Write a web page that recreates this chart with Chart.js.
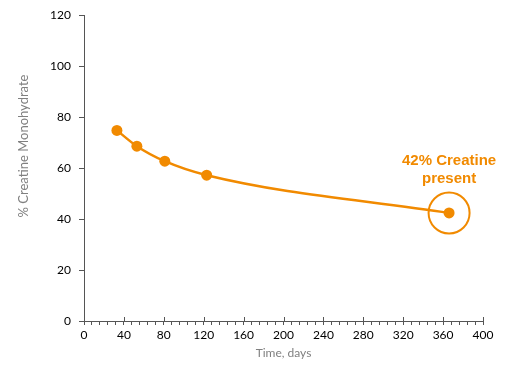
<!DOCTYPE html>
<html><head><meta charset="utf-8">
<script src="https://cdn.jsdelivr.net/npm/chart.js@4/dist/chart.umd.min.js"></script>
<style>html,body{margin:0;padding:0;background:#fff}#wrap{width:531px;height:371px}</style>
</head><body><div id="wrap"><canvas id="c" width="531" height="371"></canvas></div>
<script>
const timeDays = [33, 53, 81, 123, 366];
const creatinePct = [74.8, 68.6, 62.7, 57.2, 42.4];
const xTicks = [0, 40, 80, 120, 160, 200, 240, 280, 320, 360, 400];
const yTicks = [0, 20, 40, 60, 80, 100, 120];
const calloutLines = ['42% Creatine', 'present'];
const calloutIndex = 4;
const yTitle = '% Creatine Monohydrate';
const xTitle = 'Time, days';

const ORANGE = '#F18A00';
const AXIS = '#555555';
const TITLE_FONT = '13px Lato, "Open Sans", sans-serif';

const extras = {
  id: 'extras',
  afterDraw(chart) {
    const ctx = chart.ctx, x = chart.scales.x, y = chart.scales.y;
    ctx.save();
    // major ticks crossing axis upward
    ctx.strokeStyle = AXIS; ctx.lineWidth = 1;
    const y0 = y.getPixelForValue(0);
    xTicks.forEach(v => {
      const px = Math.round(x.getPixelForValue(v)) + 0.5;
      ctx.beginPath(); ctx.moveTo(px, y0 - 4); ctx.lineTo(px, y0); ctx.stroke();
    });
    // y axis title
    ctx.save();
    ctx.fillStyle = '#808080'; ctx.font = TITLE_FONT;
    ctx.textAlign = 'center'; ctx.textBaseline = 'middle';
    ctx.translate(24, 146); ctx.rotate(-Math.PI / 2);
    ctx.fillText(yTitle, 0, 0);
    ctx.restore();
    // callout
    const px = x.getPixelForValue(timeDays[calloutIndex]);
    const py = y.getPixelForValue(creatinePct[calloutIndex]);
    ctx.strokeStyle = ORANGE; ctx.lineWidth = 2;
    ctx.beginPath(); ctx.arc(px, py, 20.5, 0, Math.PI * 2); ctx.stroke();
    ctx.fillStyle = ORANGE;
    ctx.font = 'bold 15px "Liberation Sans", Arial, sans-serif';
    ctx.textAlign = 'center'; ctx.textBaseline = 'middle';
    ctx.fillText(calloutLines[0], px, py - 52);
    ctx.fillText(calloutLines[1], px, py - 34);
    ctx.restore();
  }
};

new Chart(document.getElementById('c'), {
  type: 'line',
  data: {
    datasets: [{
      data: timeDays.map((t, i) => ({x: t, y: creatinePct[i]})),
      borderColor: ORANGE, backgroundColor: ORANGE,
      borderWidth: 2.5, pointRadius: 5.5, pointHoverRadius: 5.5,
      pointBorderWidth: 0,
      cubicInterpolationMode: 'monotone'
    }]
  },
  options: {
    responsive: false, animation: false,
    layout: {padding: {top: 15, right: 48, left: 0, bottom: 0}},
    plugins: {legend: {display: false}, tooltip: {enabled: false}},
    scales: {
      x: {
        type: 'linear', min: 0, max: 400,
        afterBuildTicks(s) { const t = []; for (let v = 0; v <= 400; v += 8) t.push({value: v}); s.ticks = t; },
        afterFit(s) { s.height = 50; },
        ticks: {
          autoSkip: false, maxRotation: 0, padding: 3,
          color: '#000', font: {family: 'Lato, "Open Sans", sans-serif', size: 12},
          callback: v => xTicks.includes(v) ? String(v) : ''
        },
        grid: {drawOnChartArea: false, tickLength: 4, color: AXIS, tickColor: AXIS},
        border: {color: AXIS, width: 1},
        title: {display: true, text: xTitle, color: '#808080',
          font: {family: 'Lato, "Open Sans", sans-serif', size: 12}, padding: {top: 0, bottom: 11}}
      },
      y: {
        min: 0, max: 120,
        afterBuildTicks(s) { s.ticks = yTicks.map(v => ({value: v})); },
        afterFit(s) { s.width = 84; },
        ticks: {color: '#000', padding: 8, font: {family: 'Lato, "Open Sans", sans-serif', size: 12}},
        grid: {drawOnChartArea: false, tickLength: 5, color: AXIS, tickColor: AXIS},
        border: {color: AXIS, width: 1},
        title: {display: false}
      }
    }
  },
  plugins: [extras]
});
</script>
</body></html>
